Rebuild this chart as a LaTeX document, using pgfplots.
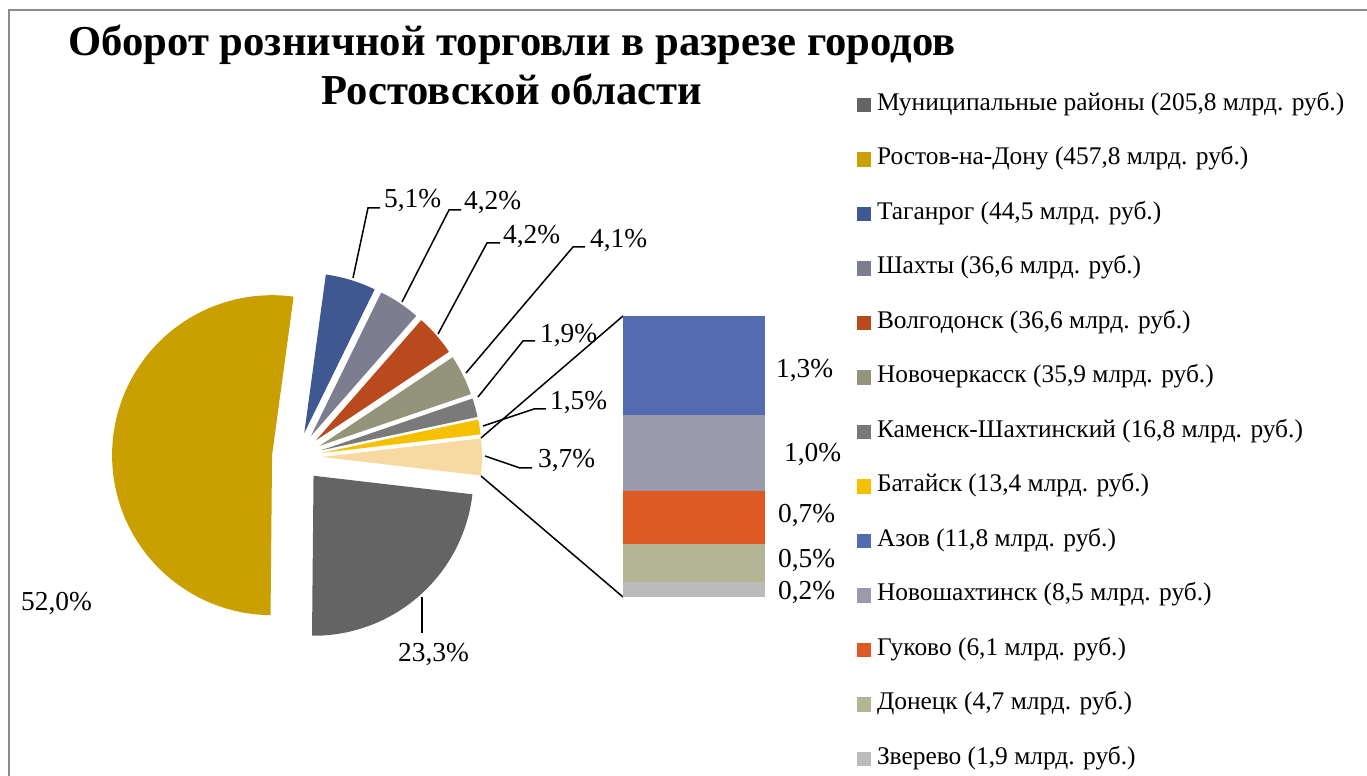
\documentclass[border=0pt]{standalone}
\usepackage{fontspec}
\setmainfont{Liberation Serif}
\usepackage{pgfplots}
\pgfplotsset{compat=1.18}

\definecolor{cMun}{HTML}{646464}
\definecolor{cRos}{HTML}{CA9F00}
\definecolor{cTag}{HTML}{405891}
\definecolor{cSha}{HTML}{7C7D8F}
\definecolor{cVol}{HTML}{B84A1E}
\definecolor{cNov}{HTML}{94947A}
\definecolor{cKam}{HTML}{7A7A7A}
\definecolor{cBat}{HTML}{F5C000}
\definecolor{cOth}{HTML}{F8D9A2}
\definecolor{cAzo}{HTML}{526CAF}
\definecolor{cNsh}{HTML}{9A9AAB}
\definecolor{cGuk}{HTML}{DD5A24}
\definecolor{cDon}{HTML}{B3B594}
\definecolor{cZve}{HTML}{BBBBBB}
\definecolor{frame}{HTML}{8C8C8C}

\newcommand\lab{\fontsize{27.5}{33}\selectfont}
\newcommand\cx{297}\newcommand\cy{319}\newcommand\R{160}\newcommand\ex{25}
% pie slice: #1 start angle, #2 share in %, #3 colour
\newcommand\slice[3]{%
  \pgfmathsetmacro\sa{#1}%
  \pgfmathsetmacro\ea{#1-3.6*#2}%
  \pgfmathsetmacro\ma{(\sa+\ea)/2}%
  \pgfmathsetmacro\px{\cx+\ex*cos(\ma)}%
  \pgfmathsetmacro\py{\cy+\ex*sin(\ma)}%
  \edef\doslice{\noexpand\addplot[forget plot, fill=#3, draw=none, domain=\ea:\sa, samples=90, variable=\noexpand\t]
    ({\px+\R*cos(\noexpand\t)},{\py+\R*sin(\noexpand\t)}) -- (axis cs:\px,\py) -- cycle;}%
  \doslice
  \xdef\nextangle{\ea}%
}

\begin{document}
\begin{tikzpicture}
\useasboundingbox (0,0) rectangle (1367bp,776bp);
\begin{axis}[at={(0,0)}, anchor=south west, width=1367bp, height=776bp, scale only axis,
  xmin=0, xmax=1367, ymin=0, ymax=776, hide axis, clip=false,
  legend style={at={(0.62692,0.88144)}, anchor=north west, draw=none, fill=none,
    inner sep=0pt, outer sep=0pt, font=\fontsize{25.5}{30}\selectfont,
    row sep=30.5bp, column sep=6bp,
    nodes={inner sep=0pt, text height=18bp, text depth=6bp}},
  legend cell align=left,
  legend image code/.code={\draw[#1, draw=none] (0bp,-8bp) rectangle (14bp,6bp);}]
  \pgfmathsetmacro\start{3.6*3.7/2}
  \slice{\start}{3.7}{cOth}
  \slice{\nextangle}{23.3}{cMun}
  \slice{\nextangle}{52.0}{cRos}
  \slice{\nextangle}{5.1}{cTag}
  \slice{\nextangle}{4.2}{cSha}
  \slice{\nextangle}{4.2}{cVol}
  \slice{\nextangle}{4.1}{cNov}
  \slice{\nextangle}{1.9}{cKam}
  \slice{\nextangle}{1.5}{cBat}

  \addlegendimage{fill=cMun}\addlegendentry{Муниципальные районы (205,8 млрд. руб.)}
  \addlegendimage{fill=cRos}\addlegendentry{Ростов-на-Дону (457,8 млрд. руб.)}
  \addlegendimage{fill=cTag}\addlegendentry{Таганрог (44,5 млрд. руб.)}
  \addlegendimage{fill=cSha}\addlegendentry{Шахты (36,6 млрд. руб.)}
  \addlegendimage{fill=cVol}\addlegendentry{Волгодонск (36,6 млрд. руб.)}
  \addlegendimage{fill=cNov}\addlegendentry{Новочеркасск (35,9 млрд. руб.)}
  \addlegendimage{fill=cKam}\addlegendentry{Каменск-Шахтинский (16,8 млрд. руб.)}
  \addlegendimage{fill=cBat}\addlegendentry{Батайск (13,4 млрд. руб.)}
  \addlegendimage{fill=cAzo}\addlegendentry{Азов (11,8 млрд. руб.)}
  \addlegendimage{fill=cNsh}\addlegendentry{Новошахтинск (8,5 млрд. руб.)}
  \addlegendimage{fill=cGuk}\addlegendentry{Гуково (6,1 млрд. руб.)}
  \addlegendimage{fill=cDon}\addlegendentry{Донецк (4,7 млрд. руб.)}
  \addlegendimage{fill=cZve}\addlegendentry{Зверево (1,9 млрд. руб.)}

  % frame
  \draw[frame, line width=2bp] (axis cs:9,0) -- (axis cs:9,766) -- (axis cs:1367,766);
  % title
  \node[anchor=base, font=\bfseries\fontsize{42.8}{50}\selectfont] at (axis cs:512,720) {Оборот розничной торговли в разрезе городов};
  \node[anchor=base, font=\bfseries\fontsize{42.8}{50}\selectfont] at (axis cs:512,671) {Ростовской области};

  % connector lines of the bar
  \draw[black, line width=1.5bp] (axis cs:623,460) -- (axis cs:481,338);
  \draw[black, line width=1.5bp] (axis cs:623,179) -- (axis cs:481,300);

  % leader lines
  \draw[black, line width=1.5bp] (axis cs:380,568) -- (axis cs:368,568) -- (axis cs:353,498);
  \draw[black, line width=1.5bp] (axis cs:461,566) -- (axis cs:449,566) -- (axis cs:402,474);
  \draw[black, line width=1.5bp] (axis cs:500,533) -- (axis cs:487,533) -- (axis cs:438,442);
  \draw[black, line width=1.5bp] (axis cs:585,529) -- (axis cs:573,529) -- (axis cs:466,403);
  \draw[black, line width=1.5bp] (axis cs:535,435) -- (axis cs:523,435) -- (axis cs:478,379);
  \draw[black, line width=1.5bp] (axis cs:546,367) -- (axis cs:534,367) -- (axis cs:483,350);
  \draw[black, line width=1.5bp] (axis cs:485,320) -- (axis cs:520,308) -- (axis cs:532,308);
  \draw[black, line width=1.5bp] (axis cs:422,179) -- (axis cs:422,143);

  % data labels
  \node[anchor=base west, font=\lab, inner sep=0] at (axis cs:384,568) {5,1\%};
  \node[anchor=base west, font=\lab, inner sep=0] at (axis cs:464,566) {4,2\%};
  \node[anchor=base west, font=\lab, inner sep=0] at (axis cs:503,532) {4,2\%};
  \node[anchor=base west, font=\lab, inner sep=0] at (axis cs:590,528) {4,1\%};
  \node[anchor=base west, font=\lab, inner sep=0] at (axis cs:540,433) {1,9\%};
  \node[anchor=base west, font=\lab, inner sep=0] at (axis cs:550,366) {1,5\%};
  \node[anchor=base west, font=\lab, inner sep=0] at (axis cs:538,308) {3,7\%};
  \node[anchor=base west, font=\lab, inner sep=0] at (axis cs:21,165) {52,0\%};
  \node[anchor=base west, font=\lab, inner sep=0] at (axis cs:398,114) {23,3\%};
  \node[anchor=base west, font=\lab, inner sep=0] at (axis cs:776,398) {1,3\%};
  \node[anchor=base west, font=\lab, inner sep=0] at (axis cs:784,314) {1,0\%};
  \node[anchor=base west, font=\lab, inner sep=0] at (axis cs:778,253) {0,7\%};
  \node[anchor=base west, font=\lab, inner sep=0] at (axis cs:778,208) {0,5\%};
  \node[anchor=base west, font=\lab, inner sep=0] at (axis cs:778,176) {0,2\%};
\end{axis}

\begin{axis}[at={(623bp,179bp)}, anchor=south west, width=142bp, height=281bp, scale only axis,
  xmin=0, xmax=1, ymin=0, ymax=3.7, hide axis, clip=false,
  ybar stacked, bar width=142bp]
  \addplot[fill=cZve, draw=none] coordinates {(0.5,0.2)};
  \addplot[fill=cDon, draw=none] coordinates {(0.5,0.5)};
  \addplot[fill=cGuk, draw=none] coordinates {(0.5,0.7)};
  \addplot[fill=cNsh, draw=none] coordinates {(0.5,1.0)};
  \addplot[fill=cAzo, draw=none] coordinates {(0.5,1.3)};
\end{axis}
\end{tikzpicture}
\end{document}
